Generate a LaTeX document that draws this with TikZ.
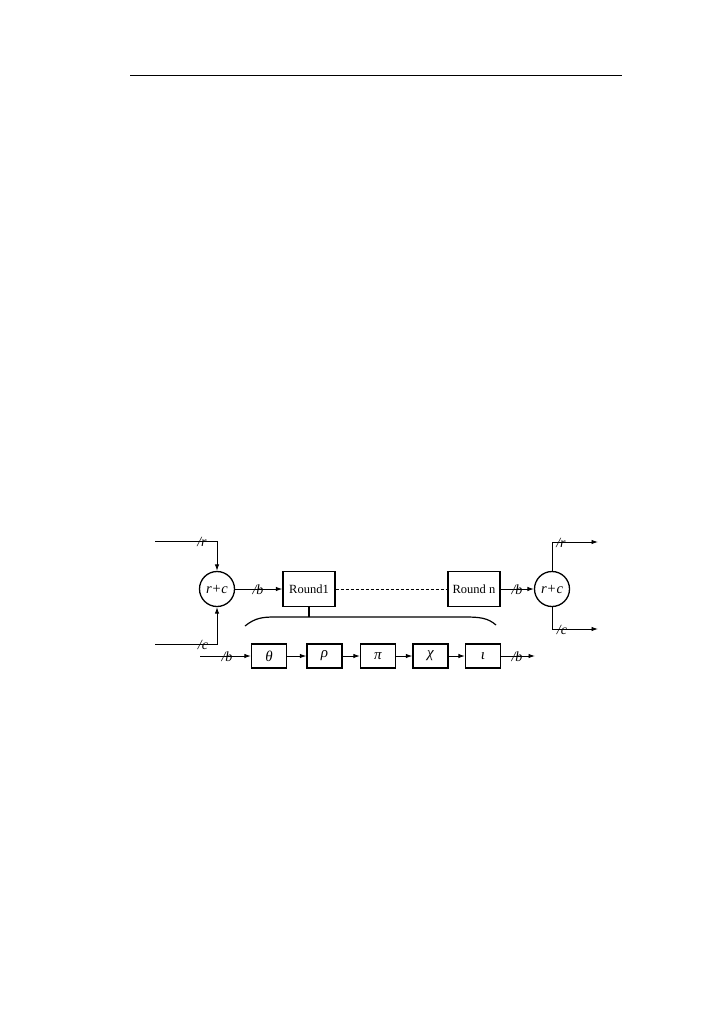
\documentclass[tikz,border=0pt]{standalone}
\usepackage{fontspec}
\setmainfont{Liberation Serif}
\usetikzlibrary{arrows.meta}
\begin{document}
\begin{tikzpicture}[x=1pt,y=-1pt,
  box/.style={draw,line width=1.3pt,minimum width=35pt,minimum height=24pt,inner sep=0pt,font=\fontsize{15}{15}\selectfont\itshape},
  rbox/.style={draw,line width=1.3pt,minimum width=52pt,minimum height=35pt,inner sep=0pt,font=\fontsize{12.5}{12.5}\selectfont},
  adder/.style={draw,circle,line width=1.3pt,minimum size=35pt,inner sep=0pt,font=\fontsize{14.5}{14.5}\selectfont\itshape},
  wire/.style={line width=0.9pt},
  arr/.style={wire,-{Latex[length=6.5pt,width=4.5pt]}},
  lbl/.style={font=\fontsize{14}{14}\selectfont\itshape,inner sep=0pt}
]
\useasboundingbox (0,0) rectangle (715,1011);
% header rule
\coordinate (ruleL) at (130,76);
\coordinate (ruleR) at (622,76);
\draw[line width=1pt] (ruleL) -- (ruleR);

% main nodes
\node[adder] (c1) at (217,589) {r+c};
\node[rbox] (r1) at (309,589) {Round1};
\node[rbox] (rn) at (474,589) {Round n};
\node[adder] (c2) at (552,589) {r+c};

% round function boxes
\node[box] (theta) at (269,656) {θ};
\node[box] (rho) at (324.5,656) {ρ};
\node[box] (pi) at (378,656) {π};
\node[box] (chi) at (430.5,656) {χ};
\node[box] (iota) at (483,656) {ι};

% free ends
\coordinate (inR) at (155,541);
\coordinate (inC) at (155,644);
\coordinate (outR) at (598,542);
\coordinate (outC) at (598,629);
\coordinate (inB) at (200,656);
\coordinate (outB) at (535,656);
\coordinate (braceMid) at (309,617);
\coordinate (braceL) at (245,626);
\coordinate (braceR) at (496,625);

% inputs
\draw[arr] (inR) -| (c1.north);
\node[lbl] (lr1) at (202,542) {/r};
\draw[arr] (inC) -| (c1.south);
\node[lbl] (lc1) at (203,645) {/c};

% main chain
\draw[arr] (c1.east) -- (r1.west);
\node[lbl] (lb1) at (258,590) {/b};
\draw[wire,dash pattern=on 3pt off 2pt] (r1.east) -- (rn.west);
\draw[arr] (rn.east) -- (c2.west);
\node[lbl] (lb2) at (517,590) {/b};

% outputs
\draw[arr] (c2.north) |- (outR);
\node[lbl] (lr2) at (561,543) {/r};
\draw[arr] (c2.south) |- (outC);
\node[lbl] (lc2) at (562,630) {/c};

% brace
\draw[line width=1.3pt] (r1.south) -- (braceMid);
\draw[line width=1.2pt] (braceL) .. controls (255,618) and (262,617) .. (275,617) -- (465,617) .. controls (480,617) and (488,618) .. (braceR);

% round function chain
\draw[arr] (inB) -- (theta.west);
\node[lbl] (lb3) at (227,657) {/b};
\draw[arr] (theta) -- (rho);
\draw[arr] (rho) -- (pi);
\draw[arr] (pi) -- (chi);
\draw[arr] (chi) -- (iota);
\draw[arr] (iota.east) -- (outB);
\node[lbl] (lb4) at (517,657) {/b};
\end{tikzpicture}
\end{document}
